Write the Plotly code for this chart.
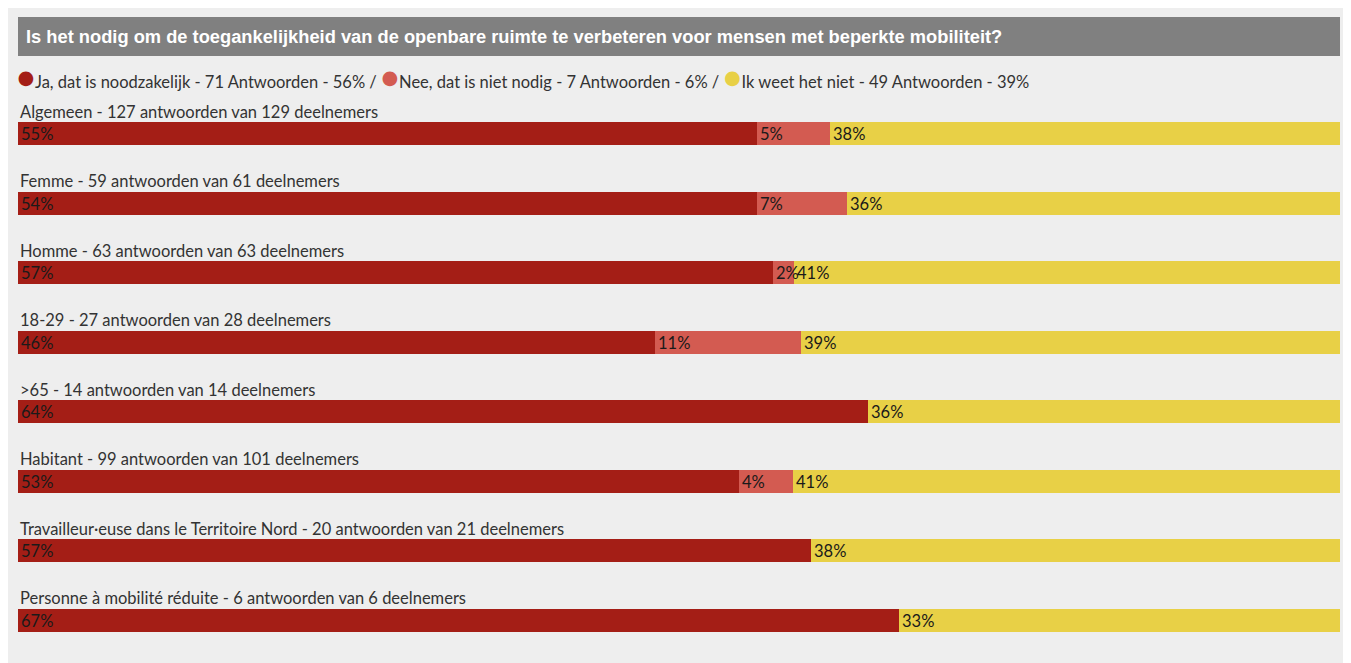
import plotly.graph_objects as go

# survey groups, answer counts and participant counts
groups = [
    "Algemeen",
    "Femme",
    "Homme",
    "18-29",
    ">65",
    "Habitant",
    "Travailleur·euse dans le Territoire Nord",
    "Personne à mobilité réduite",
]
participants = [129, 61, 63, 28, 14, 101, 21, 6]
ja = [71, 33, 36, 13, 9, 54, 12, 4]
nee = [7, 4, 1, 3, 0, 4, 0, 0]
weet_niet = [49, 22, 26, 11, 5, 41, 8, 2]

answer_names = ["Ja, dat is noodzakelijk", "Nee, dat is niet nodig", "Ik weet het niet"]
answer_totals = [71, 7, 49]
answer_pcts = [56, 6, 39]
colors = ["#a41e16", "#d35b51", "#e8d046"]

title = "Is het nodig om de toegankelijkheid van de openbare ruimte te verbeteren voor mensen met beperkte mobiliteit?"

FONT = "Lato, 'Open Sans', sans-serif"

answers = [j + n + w for j, n, w in zip(ja, nee, weet_niet)]

fig = go.Figure()
# draw the segments right-to-left so that a label never gets hidden by the next segment
series_list = [ja, nee, weet_niet]
bases = [[0] * len(groups),
         [j / a for j, a in zip(ja, answers)],
         [(j + n) / a for j, n, a in zip(ja, nee, answers)]]
for i in [2, 1, 0]:
    series = series_list[i]
    widths = [c / a for c, a in zip(series, answers)]
    labels = [f"{round(c / p * 100)}%" if c else "" for c, p in zip(series, participants)]
    fig.add_trace(go.Bar(
        y=groups, x=widths, base=bases[i], orientation="h",
        marker=dict(color=colors[i], line=dict(width=0)),
        width=0.33,
        text=labels, textposition="inside", insidetextanchor="start",
        constraintext="none", textangle=0,
        textfont=dict(family=FONT, size=16.5, color="#1a1a1a"),
        hoverinfo="skip", showlegend=False,
    ))

# group labels above each bar
for g, a, p in zip(groups, answers, participants):
    fig.add_annotation(
        xref="paper", yref="y", x=0, y=g, yshift=22,
        text=f"{g} - {a} antwoorden van {p} deelnemers",
        showarrow=False, xanchor="left", yanchor="middle",
        font=dict(family=FONT, size=16.5, color="#333333"),
    )

# legend line
legend_parts = []
for name, tot, pct, color in zip(answer_names, answer_totals, answer_pcts, colors):
    legend_parts.append(
        f"<span style='color:{color};font-size:30px'>●</span>{name} - {tot} Antwoorden - {pct}%"
    )
fig.add_annotation(
    xref="paper", yref="paper", x=0, y=(655 - 76) / 556, xshift=-3,
    text=" / ".join(legend_parts),
    showarrow=False, xanchor="left", yanchor="middle",
    font=dict(family=FONT, size=16.5, color="#333333"),
)

# title bar
fig.add_shape(type="rect", xref="paper", yref="paper", layer="below",
              x0=0, x1=1, y0=(655 - 56) / 556, y1=(655 - 17) / 556,
              fillcolor="#808080", line=dict(width=0))
fig.add_annotation(
    xref="paper", yref="paper", x=0, y=(655 - 36) / 556, xshift=6,
    text=f"<b>{title}</b>", showarrow=False, xanchor="left", yanchor="middle",
    font=dict(family="'Liberation Sans', Arial, sans-serif", size=18.3, color="white"),
)

# page has an 8px body margin, so the figure is 8px smaller than the window
fig.update_layout(
    barmode="overlay",
    width=1343, height=655,
    margin=dict(l=10, r=11, t=91, b=8),
    paper_bgcolor="#eeeeee", plot_bgcolor="rgba(0,0,0,0)",
    bargap=0,
)
fig.update_xaxes(range=[0, 1], visible=False, fixedrange=True)
fig.update_yaxes(autorange=False, range=[len(groups) - 0.5, -0.5], visible=False,
                 categoryorder="array", categoryarray=groups, fixedrange=True)

fig.write_html("out.html")
